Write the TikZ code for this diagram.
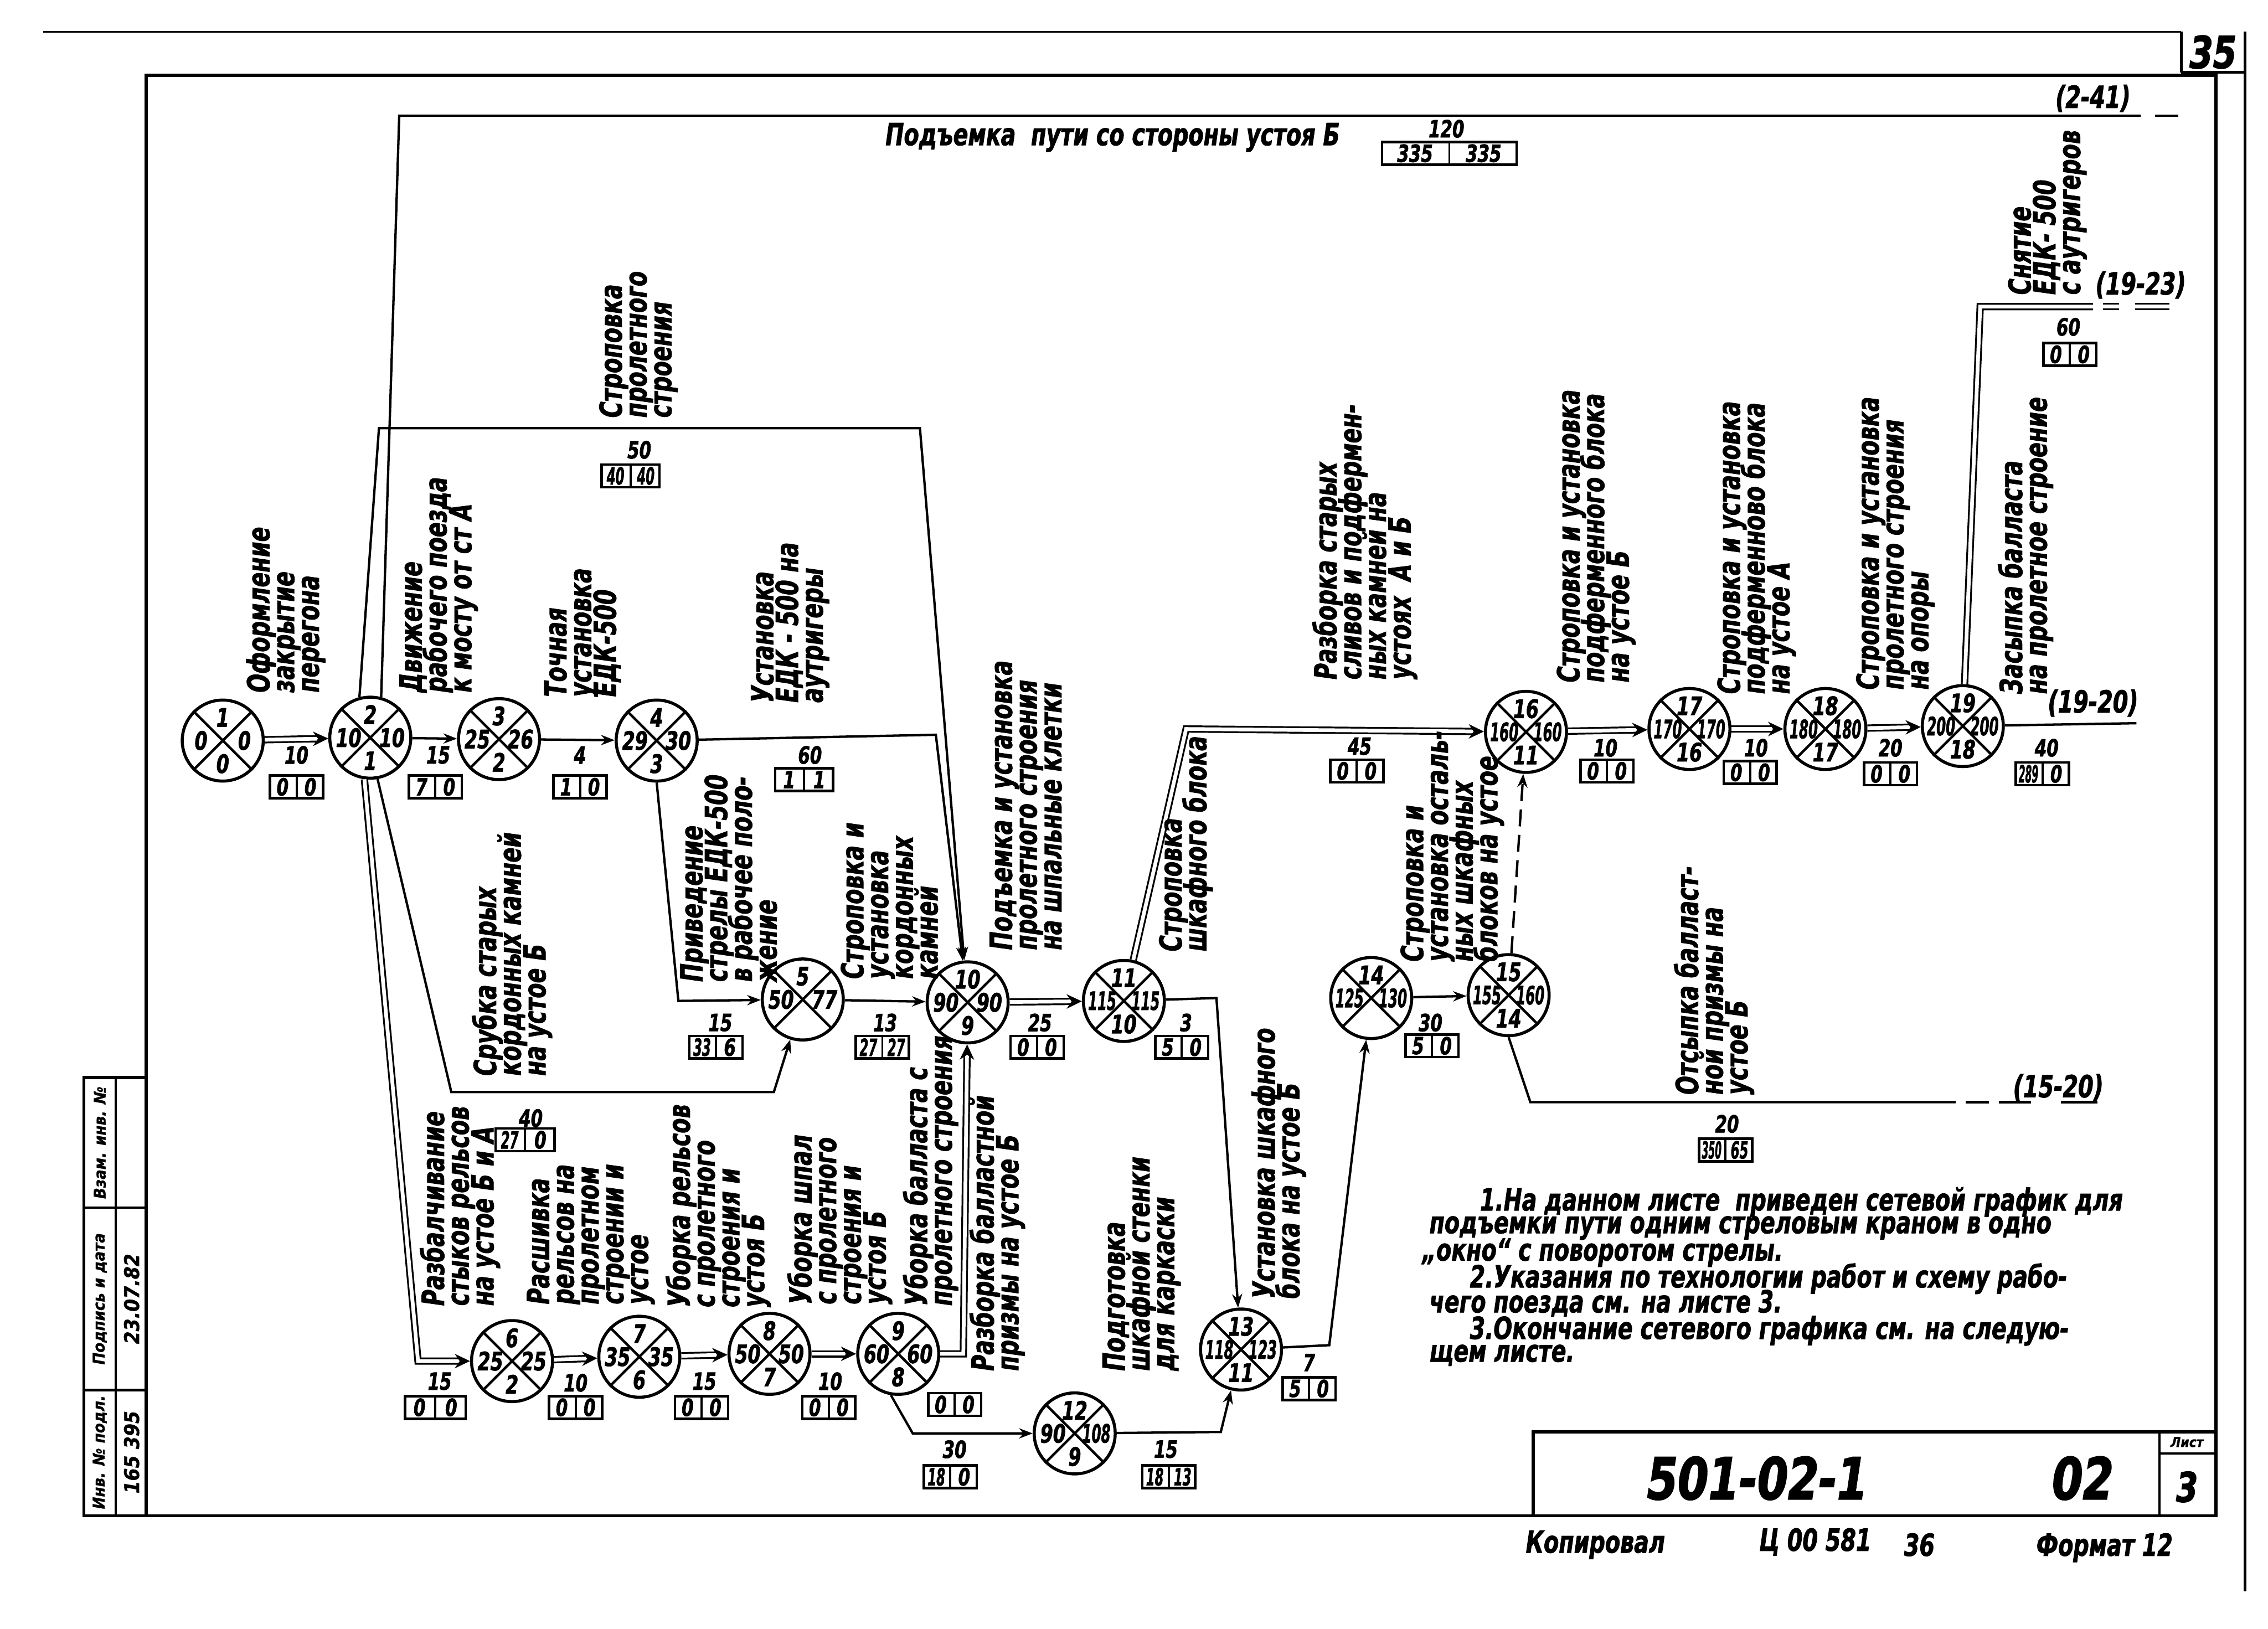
\documentclass[tikz,border=0pt]{standalone}
\usepackage{fontspec}
\usepackage{graphicx}
\usetikzlibrary{calc,arrows.meta}
\newfontfamily\hw[FakeStretch=0.8,FakeBold=1.6]{DejaVu Sans Condensed Bold Oblique}
\newfontfamily\hwm[FakeStretch=0.8,FakeBold=1.4]{DejaVu Sans Condensed Bold Oblique}
\newfontfamily\hwn[FakeStretch=0.8,FakeBold=1.6]{DejaVu Sans Condensed Bold Oblique}
\newfontfamily\hwt[FakeStretch=0.85,FakeBold=2]{DejaVu Sans Condensed Bold Oblique}
\newfontfamily\hwp[FakeBold=1]{DejaVu Sans Condensed Bold Oblique}
\newcommand\flbl{\hw\fontsize{18}{14.6}\selectfont\lineskiplimit=-60pt\lineskip=0pt\relax}
\newcommand\fnote{\hwm\fontsize{18}{15}\selectfont\lineskiplimit=-60pt\lineskip=0pt\relax}
\newcommand\fnum{\hwn\fontsize{15}{15}\selectfont}
\newcommand\fdur{\hwn\fontsize{14}{14}\selectfont}
\newcommand\sq[1]{\scalebox{0.74}[1]{#1}}
\newcommand\sqq[1]{\scalebox{0.55}[1]{#1}}
\tikzset{
  ln/.style={line width=1.4pt},
  dbl/.style={double, double distance=2.2pt, line width=1.05pt},
  arr/.style={-{Stealth[length=8pt,width=6pt]}},
  darr/.style={-{Stealth[length=9pt,width=8.5pt]}},
  ev/.style={circle, draw, line width=1.8pt, minimum size=1.68cm, inner sep=0pt},
  num/.style={font=\fnum, inner sep=0pt},
  dur/.style={font=\fdur, inner sep=0pt},
  rbx/.style={draw, line width=1.5pt, minimum height=0.47cm, inner sep=0pt},
  lbl/.style={font=\flbl, rotate=90, anchor=north west, align=left, inner sep=0pt},
  note/.style={font=\fnote, anchor=west, inner sep=0pt},
  frm/.style={line width=1.8pt},
  stp/.style={font=\hwp\fontsize{9.5}{9.5}\selectfont, rotate=90, inner sep=0pt},
  stv/.style={font=\hwp\fontsize{12}{12}\selectfont, rotate=90, inner sep=0pt},
}
\newcommand\evt[6]{%
  \node[ev] (#1) at (#2) {};
  \draw[line width=1.5pt] (#1.45)--(#1.225) (#1.135)--(#1.315);
  \node[num] (#1t) at ($(#1)+(0,-16)$) {#3};
  \node[num] (#1l) at ($(#1)+(-15,0)$) {#4};
  \node[num] (#1r) at ($(#1)+(15,0)$) {#5};
  \node[num] (#1b) at ($(#1)+(0,16)$) {#6};
}
\newcommand\resbox[5][1.1cm]{%
  \node[rbx, minimum width=#1] (#2) at (#3) {};
  \draw[line width=1.3pt] (#2.north)--(#2.south);
  \node[dur] (#2a) at ($(#2.west)!0.5!(#2.center)$) {#4};
  \node[dur] (#2b) at ($(#2.east)!0.5!(#2.center)$) {#5};
}
\begin{document}
\begin{tikzpicture}[x=0.03cm,y=-0.03cm]
\useasboundingbox (0,0) rectangle (1568,1126);
\fill[white] (0,0) rectangle (1568,1126);

% ---------- frame ----------
\draw[frm] (101,52) -- (1532,52) -- (1532,1048) -- (101,1048) -- cycle;
\draw[line width=1.2pt] (30,22) -- (1508,22);
\draw[frm] (1508,22) -- (1508,50) (1508,50) -- (1552,50);
\draw[frm] (1552,22) -- (1552,1100);
\node[font=\hwt\fontsize{26}{26}\selectfont, inner sep=0pt] (pg) at (1530,36) {35};

% stamp
\draw[frm] (58,745) rectangle (101,1048);
\draw[line width=1.4pt] (80,745) -- (80,1048) (58,835) -- (101,835) (58,961) -- (101,961);
\node[stp] (st1) at (69,790) {Взам. инв. №};
\node[stp] (st2) at (69,898) {Подпись и дата};
\node[stp] (st3) at (69,1004) {Инв. № подл.};
\node[stv] (st4) at (91,898) {23.07.82};
\node[stv] (st5) at (91,1004) {165 395};

% title block
\draw[frm] (1060,1048) -- (1060,990) -- (1532,990);
\draw[line width=1.4pt] (1493,990) -- (1493,1048) (1493,1005) -- (1532,1005);
\node[font=\hwp\fontsize{8}{8}\selectfont, inner sep=0pt] (tl) at (1512,997) {Лист};
\node[font=\hwt\fontsize{24}{24}\selectfont, inner sep=0pt] (tn) at (1512,1028) {3};
\node[font=\hwt\fontsize{34}{34}\selectfont, inner sep=0pt] (tt) at (1215,1022) {501-02-1};
\node[font=\hwt\fontsize{34}{34}\selectfont, inner sep=0pt] (tv) at (1440,1022) {02};
\node[font=\hw\fontsize{18}{18}\selectfont, inner sep=0pt] (bk1) at (1103,1068) {Копировал};
\node[font=\hw\fontsize{18}{18}\selectfont, inner sep=0pt] (bk2) at (1255,1066) {Ц 00 581};
\node[font=\hw\fontsize{18}{18}\selectfont, inner sep=0pt] (bk3) at (1327,1068) {36};
\node[font=\hw\fontsize{18}{18}\selectfont, inner sep=0pt] (bk4) at (1455,1070) {Формат 12};

% ---------- events ----------
\evt{e1}{154,512}{1}{0}{0}{0}
\evt{e2}{256,510}{2}{10}{10}{1}
\evt{e3}{345,511}{3}{25}{26}{2}
\evt{e4}{454,512}{4}{29}{30}{3}
\evt{e5}{555,691}{5}{50}{77}{}
\evt{e10}{669,693}{10}{90}{90}{9}
\evt{e11}{777,692}{11}{\sq{115}}{\sq{115}}{10}
\evt{e6}{354,941}{6}{25}{25}{2}
\evt{e7}{442,938}{7}{35}{35}{6}
\evt{e8}{532,936}{8}{50}{50}{7}
\evt{e9}{621,936}{9}{60}{60}{8}
\evt{e12}{743,991}{12}{90}{\sq{108}}{9}
\evt{e13}{858,933}{13}{\sq{118}}{\sq{123}}{11}
\evt{e14}{948,690}{14}{\sq{125}}{\sq{130}}{}
\evt{e15}{1043,688}{15}{\sq{155}}{\sq{160}}{14}
\evt{e16}{1055,506}{16}{\sq{160}}{\sq{160}}{11}
\evt{e17}{1168,504}{17}{\sq{170}}{\sq{170}}{16}
\evt{e18}{1262,504}{18}{\sq{180}}{\sq{180}}{17}
\evt{e19}{1357,502}{19}{\sq{200}}{\sq{200}}{18}

% ---------- bend points ----------
\coordinate (c241a) at (276,80);
\coordinate (c241b) at (1480,80);
\coordinate (s1) at (262,296);
\coordinate (s2) at (636,296);
\coordinate (a1) at (647,508);
\coordinate (a2) at (469,692);
\coordinate (c1) at (312,755);
\coordinate (c2) at (535,755);
\coordinate (f1) at (289,941);
\coordinate (g1) at (666,936);
\coordinate (h1) at (631,991);
\coordinate (h2) at (844,990);
\coordinate (k1) at (841,690);
\coordinate (k2) at (919,930);
\coordinate (m1) at (1058,762);
\coordinate (m2) at (1352,762);
\coordinate (n1) at (820,504);
\coordinate (p1) at (1369,212);
\coordinate (p2) at (1447,212);
\coordinate (q1) at (1477,500);

% ---------- connectors ----------
\draw[dbl,darr] (e1) -- (e2);
\draw[ln,arr] (e2) -- (e3);
\draw[ln,arr] (e3) -- (e4);
\draw[ln] (e2.75) -- (c241a) -- (c241b);
\draw[ln] (1490,80) -- (1506,80);
\draw[ln,arr] (e2.105) -- (s1) -- (s2) -- (e10);
\draw[ln,arr] (e4) -- (a1) -- (e10);
\draw[ln,arr] (e4.south) -- (a2) -- (e5);
\draw[ln,arr] (e5) -- (e10);
\draw[ln,arr] (e2.280) -- (c1) -- (c2) -- (e5);
\draw[dbl,darr] (e2.262) -- (f1) -- (e6);
\draw[dbl,darr] (e6) -- (e7);
\draw[dbl,darr] (e7) -- (e8);
\draw[dbl,darr] (e8) -- (e9);
\draw[dbl,darr] (e9) -- (g1) -- (e10);
\draw[dbl,darr] (e10) -- (e11);
\draw[ln,arr] (e9.260) -- (h1) -- (e12);
\draw[ln,arr] (e12) -- (h2) -- (e13);
\draw[ln,arr] (e11) -- (k1) -- (e13);
\draw[ln,arr] (e13) -- (k2) -- (e14);
\draw[ln,arr] (e14) -- (e15);
\draw[ln,arr,dash pattern=on 10pt off 5pt] (e15) -- (e16);
\draw[ln] (e15.south) -- (m1) -- (m2);
\draw[ln] (1359,762) -- (1375,762) (1382,762) -- (1404,762) (1425,762) -- (1450,762);
\draw[dbl,darr] (e11) -- (n1) -- (e16);
\draw[dbl,darr] (e16) -- (e17);
\draw[dbl,darr] (e17) -- (e18);
\draw[dbl,darr] (e18) -- (e19);
\draw[dbl] (e19) -- (p1) -- (p2);
\draw[dbl] (1454,212) -- (1465,212) (1476,212) -- (1500,212);
\draw[ln] (e19) -- (q1);

% ---------- outgoing labels ----------
\node[font=\flbl, inner sep=0pt] (o1) at (1447,68) {(2-41)};
\node[font=\flbl, inner sep=0pt] (o2) at (1480,197) {(19-23)};
\node[font=\flbl, inner sep=0pt] (o3) at (1447,486) {(19-20)};
\node[font=\flbl, inner sep=0pt] (o4) at (1423,752) {(15-20)};
\node[font=\flbl, anchor=west, inner sep=0pt] (top) at (612,95) {Подъемка\ \ пути со стороны устоя Б};

% ---------- durations and reserves ----------
\node[dur] (d1) at (205,522) {10};   \resbox{b1}{205,544}{0}{0}
\node[dur] (d2) at (303,522) {15};   \resbox{b2}{301,544}{7}{0}
\node[dur] (d3) at (401,522) {4};    \resbox{b3}{401,544}{1}{0}
\node[dur] (d4) at (1000,89) {120};  \resbox[2.79cm]{b4}{1002,106}{335}{335}
\node[dur] (d5) at (442,311) {50};   \resbox[1.2cm]{b5}{436,329}{\sq{40}}{\sq{40}}
\node[dur] (d6) at (560,522) {60};   \resbox[1.2cm]{b6}{556,539}{1}{1}
\node[dur] (d7) at (498,707) {15};   \resbox{b7}{495,724}{\sq{33}}{6}
\node[dur] (d8) at (612,707) {13};   \resbox{b8}{610,724}{\sq{27}}{\sq{27}}
\node[dur] (d9) at (719,707) {25};   \resbox{b9}{717,724}{0}{0}
\node[dur] (d10) at (820,707) {3};   \resbox{b10}{817,724}{5}{0}
\node[dur] (d11) at (367,773) {40};  \resbox[1.22cm]{b11}{363,788}{\sq{27}}{0}
\node[dur] (d12) at (304,955) {15};  \resbox[1.26cm]{b12}{301,973}{0}{0}
\node[dur] (d13) at (398,956) {10};  \resbox{b13}{398,973}{0}{0}
\node[dur] (d14) at (487,955) {15};  \resbox{b14}{485,973}{0}{0}
\node[dur] (d15) at (574,955) {10};  \resbox{b15}{573,973}{0}{0}
\resbox{b16}{660,971}{0}{0}
\node[dur] (d17) at (660,1002) {30}; \resbox{b17}{657,1021}{\sq{18}}{0}
\node[dur] (d18) at (806,1002) {15}; \resbox{b18}{808,1021}{\sq{18}}{\sq{13}}
\node[dur] (d19) at (905,942) {7};   \resbox{b19}{905,960}{5}{0}
\node[dur] (d20) at (989,707) {30};  \resbox{b20}{990,723}{5}{0}
\node[dur] (d21) at (1194,777) {20}; \resbox{b21}{1193,795}{\sqq{350}}{\sq{65}}
\node[dur] (d22) at (940,516) {45};  \resbox{b22}{938,533}{0}{0}
\node[dur] (d23) at (1110,517) {10}; \resbox{b23}{1111,533}{0}{0}
\node[dur] (d24) at (1214,517) {10}; \resbox{b24}{1210,534}{0}{0}
\node[dur] (d25) at (1307,517) {20}; \resbox{b25}{1307,535}{0}{0}
\node[dur] (d26) at (1430,226) {60}; \resbox{b26}{1431,245}{0}{0}
\node[dur] (d27) at (1415,517) {40}; \resbox{b27}{1412,535}{\sqq{289}}{0}

% ---------- activity labels ----------
\node[lbl] (t1) at (170,479) {Оформление\\закрытие\\перегона};
\node[lbl] (t2) at (276,479) {Движение\\рабочего поезда\\к мосту от ст А};
\node[lbl] (t3) at (376,482) {Точная\\установка\\ЕДК-500};
\node[lbl] (t4) at (414,289) {Строповка\\пролетного\\строения};
\node[lbl] (t5) at (519,486) {Установка\\ЕДК - 500 на\\аутригеры};
\node[lbl] (t6) at (470,679) {Приведение\\стрелы ЕДК-500\\в рабочее поло-\\жение};
\node[lbl] (t7) at (581,677) {Строповка и\\установка\\кордонных\\камней};
\node[lbl] (t8) at (684,657) {Подъемка и установка\\пролетного строения\\на шпальные клетки};
\node[lbl] (t9) at (801,658) {Строповка\\шкафного блока};
\node[lbl] (t10) at (326,744) {Срубка старых\\кордонных камней\\на устое Б};
\node[lbl] (t11) at (907,470) {Разборка старых\\сливов и подфермен-\\ных камней на\\устоях\ \ А и Б};
\node[lbl] (t12) at (1076,472) {Строповка и установка\\подферменного блока\\на устое Б};
\node[lbl] (t13) at (1187,480) {Строповка и установка\\подферменново блока\\на устое А};
\node[lbl] (t14) at (1283,477) {Строповка и установка\\пролетного строения\\на опоры};
\node[lbl] (t15) at (1388,204) {Снятие\\ЕДК- 500\\с аутригеров};
\node[lbl] (t16) at (1381,480) {Засыпка балласта\\на пролетное строение};
\node[lbl] (t17) at (968,665) {Строповка и\\установка осталь-\\ных шкафных\\блоков на устое};
\node[lbl] (t18) at (1157,757) {Отсыпка балласт-\\ной призмы на\\устое Б};
\node[lbl] (t19) at (865,898) {Установка шкафного\\блока на устое Б};
\node[lbl] (t20) at (762,948) {Подготовка\\шкафной стенки\\для каркаски};
\node[lbl] (t21) at (670,948) {Разборка балластной\\призмы на устое Б};
\node[lbl] (t22) at (624,903) {Уборка балласта с\\пролетного строения};
\node[lbl] (t23) at (544,902) {Уборка шпал\\с пролетного\\строения и\\устоя Б};
\node[lbl] (t24) at (460,904) {Уборка рельсов\\с пролетного\\строения и\\устоя Б};
\node[lbl] (t25) at (364,902) {Расшивка\\рельсов на\\пролетном\\строении и\\устое};
\node[lbl] (t26) at (290,903) {Разбалчивание\\стыков рельсов\\на устое Б и А};

% ---------- notes ----------
\node[note] (n1l) at (1023,831) {1.На данном листе\ \ приведен сетевой график для};
\node[note] (n2l) at (988,849) {подъемки пути одним стреловым краном в одно};
\node[note] (n3l) at (983,866) {„окно“ с поворотом стрелы.};
\node[note] (n4l) at (1016,884) {2.Указания по технологии работ и схему рабо-};
\node[note] (n5l) at (988,901) {чего поезда см. на листе 3.};
\node[note] (n6l) at (1016,920) {3.Окончание сетевого графика см. на следую-};
\node[note] (n7l) at (988,937) {щем листе.};
\end{tikzpicture}
\end{document}
